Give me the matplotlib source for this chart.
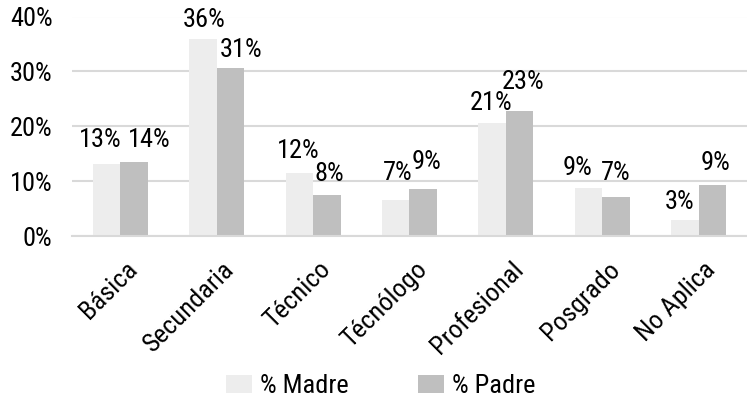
import matplotlib
matplotlib.use("Agg")
import matplotlib.pyplot as plt
from matplotlib import font_manager
import matplotlib.transforms as mtransforms
import numpy as np

categories = ["Básica", "Secundaria", "Técnico", "Técnólogo", "Profesional", "Posgrado", "No Aplica"]
madre = [13.2, 35.9, 11.6, 6.6, 20.7, 8.9, 3.0]
padre = [13.6, 30.6, 7.6, 8.6, 22.8, 7.2, 9.4]
yticks = [0, 10, 20, 30, 40]

# label nudges in pixels (dx, dy above bar top)
madre_nudge = [(-6, 24), (1, 19), (-1, 22), (2, 27), (-1, 20), (-11, 20), (-5, 18)]
padre_nudge = [(15, 22), (11, 18), (3, 21), (3, 27), (3, 29), (0, 24), (3, 22)]

available = {f.name for f in font_manager.fontManager.ttflist}
family = [f for f in ["Arial Narrow", "Liberation Sans Narrow", "Roboto Condensed", "Liberation Sans"]
          if f in available] + ["DejaVu Sans"]
plt.rcParams["font.family"] = family
fs = 19

fig = plt.figure(figsize=(7.47, 4.01), dpi=100)
ax = fig.add_axes([72 / 747, 1 - 236.5 / 401, 1 - 72 / 747, (236.5 - 16.5) / 401])

x = np.arange(len(categories))
w = 0.285
b1 = ax.bar(x - w / 2, madre, w, color="#EDEDED", label="% Madre", zorder=2)
b2 = ax.bar(x + w / 2, padre, w, color="#BFBFBF", label="% Padre", zorder=2)

for i in range(len(categories)):
    ax.annotate(f"{madre[i]:.0f}%", (x[i] - w / 2, madre[i]), xytext=madre_nudge[i],
                textcoords="offset pixels", ha="center", va="center", fontsize=fs)
    ax.annotate(f"{padre[i]:.0f}%", (x[i] + w / 2, padre[i]), xytext=padre_nudge[i],
                textcoords="offset pixels", ha="center", va="center", fontsize=fs)

ax.set_xlim(-0.5, len(categories) - 0.5)
ax.set_ylim(0, 40)
ax.set_yticks(yticks)
ax.set_yticklabels([f"{t}%" for t in yticks], fontsize=fs)
ax.yaxis.grid(True, color="#D9D9D9", linewidth=1.5, zorder=0)
ax.tick_params(axis="y", length=0, pad=14)
ax.tick_params(axis="x", length=0, pad=15)
ax.set_xticks(x)
ax.set_xticklabels(categories, rotation=45, ha="right", rotation_mode="anchor", fontsize=fs)
shift = mtransforms.ScaledTranslation(5 / 100, 0, fig.dpi_scale_trans)
for lab in ax.get_xticklabels():
    lab.set_transform(lab.get_transform() + shift)
for s in ["top", "right", "left"]:
    ax.spines[s].set_visible(False)
ax.spines["bottom"].set_color("#D9D9D9")
ax.spines["bottom"].set_linewidth(1.5)

fig.legend(handles=[b1, b2], loc="center left", bbox_to_anchor=(226 / 747, 1 - 386 / 401), ncol=2,
           frameon=False, fontsize=fs, handlelength=1.0, handleheight=0.65, handletextpad=0.3,
           columnspacing=2.6, borderpad=0, borderaxespad=0)

fig.savefig("out.png", dpi=100)
